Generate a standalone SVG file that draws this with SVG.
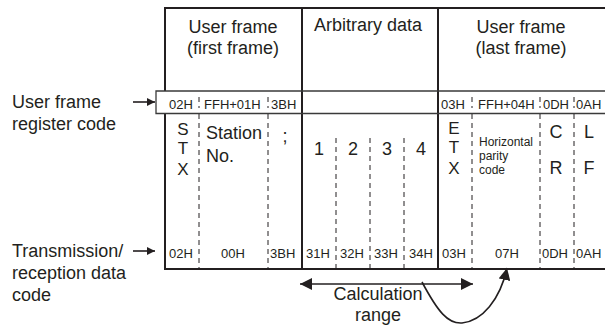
<svg xmlns="http://www.w3.org/2000/svg" width="605" height="326" viewBox="0 0 605 326">
<defs>
<style>
.t{font-family:"Liberation Sans",Arial,sans-serif;fill:#231f20}
.L{font-size:18px}
.V{font-size:17px}
.S{font-size:13px}
.H{font-size:12px}
.m{text-anchor:middle}
.thick{stroke:#231f20;stroke-width:2;fill:none}
.thin{stroke:#3a3a3a;stroke-width:1.3;fill:none}
.dash{stroke:#231f20;stroke-width:1;stroke-dasharray:5,4;fill:none}
.conn{stroke:#231f20;stroke-width:1.6;fill:none}
</style>
<marker id="ah" viewBox="0 0 10 10" refX="10" refY="5" markerWidth="8" markerHeight="8" markerUnits="userSpaceOnUse" orient="auto-start-reverse">
<path d="M0,0 L10,5 L0,10 z" fill="#231f20"/>
</marker>
<marker id="ah2" viewBox="0 0 10 10" refX="10" refY="5" markerWidth="12" markerHeight="12" markerUnits="userSpaceOnUse" orient="auto-start-reverse">
<path d="M0,0 L10,5 L0,10 z" fill="#231f20"/>
</marker>
</defs>

<g id="frame">
<line class="thick" x1="165" y1="8" x2="605" y2="8"/>
<line class="thick" x1="165" y1="269" x2="605" y2="269"/>
<line class="thick" x1="165" y1="7" x2="165" y2="91"/>
<line class="thick" x1="165" y1="114" x2="165" y2="270"/>
<line class="thick" x1="302" y1="7" x2="302" y2="270"/>
<line class="thick" x1="438" y1="7" x2="438" y2="270"/>
<path class="thin" d="M605 91 H156 V113.5 H605"/>
<line class="dash" x1="199" y1="114" x2="199" y2="269"/>
<line class="dash" x1="268" y1="114" x2="268" y2="269"/>
<line class="dash" x1="336" y1="138" x2="336" y2="269"/>
<line class="dash" x1="370" y1="138" x2="370" y2="269"/>
<line class="dash" x1="404" y1="138" x2="404" y2="269"/>
<line class="dash" x1="472" y1="114" x2="472" y2="269"/>
<line class="dash" x1="540" y1="114" x2="540" y2="269"/>
<line class="dash" x1="574" y1="114" x2="574" y2="269"/>
<line class="dash" x1="199" y1="97" x2="199" y2="108"/>
<line class="dash" x1="268" y1="97" x2="268" y2="108"/>
<line class="dash" x1="472" y1="97" x2="472" y2="108"/>
<line class="dash" x1="540" y1="97" x2="540" y2="108"/>
<line class="dash" x1="574" y1="97" x2="574" y2="108"/>
</g>

<g id="first-frame">
<text class="t L m" x="233" y="33">User frame</text>
<text class="t L m" x="233" y="54">(first frame)</text>
<text class="t S" x="169" y="109">02H</text>
<text class="t S" x="204" y="109">FFH+01H</text>
<text class="t S" x="271" y="109">3BH</text>
<text class="t V m" x="183" y="135"><tspan x="183">S</tspan><tspan x="183" dy="19">T</tspan><tspan x="183" dy="21">X</tspan></text>
<text class="t L" x="206" y="139"><tspan x="206">Station</tspan><tspan x="206" dy="23">No.</tspan></text>
<text class="t L m" x="285" y="142">;</text>
<text class="t S" x="169" y="258">02H</text>
<text class="t S m" x="233" y="258">00H</text>
<text class="t S" x="270" y="258">3BH</text>
</g>

<g id="arbitrary-data">
<text class="t L m" x="368" y="31">Arbitrary data</text>
<text class="t L m" x="319" y="155">1</text>
<text class="t L m" x="353" y="155">2</text>
<text class="t L m" x="387" y="155">3</text>
<text class="t L m" x="421" y="155">4</text>
<text class="t S" x="306" y="258">31H</text>
<text class="t S" x="340" y="258">32H</text>
<text class="t S" x="374" y="258">33H</text>
<text class="t S" x="409" y="258">34H</text>
</g>

<g id="last-frame">
<text class="t L m" x="521" y="33">User frame</text>
<text class="t L m" x="521" y="54">(last frame)</text>
<text class="t S" x="441" y="109">03H</text>
<text class="t S" x="478" y="109">FFH+04H</text>
<text class="t S" x="543" y="109">0DH</text>
<text class="t S" x="576" y="109">0AH</text>
<text class="t V m" x="454" y="134"><tspan x="454">E</tspan><tspan x="454" dy="19">T</tspan><tspan x="454" dy="21">X</tspan></text>
<text class="t H" x="479" y="146"><tspan x="479">Horizontal</tspan><tspan x="479" dy="14">parity</tspan><tspan x="479" dy="14">code</tspan></text>
<text class="t L m" x="556" y="138">C</text>
<text class="t L m" x="556" y="174">R</text>
<text class="t L m" x="589" y="138">L</text>
<text class="t L m" x="589" y="174">F</text>
<text class="t S" x="442" y="258">03H</text>
<text class="t S m" x="507" y="258">07H</text>
<text class="t S" x="542" y="258">0DH</text>
<text class="t S" x="576" y="258">0AH</text>
</g>

<g id="label-register">
<text class="t L" x="12" y="108">User frame</text>
<text class="t L" x="12" y="130">register code</text>
</g>

<g id="label-transmission">
<text class="t L" x="12" y="257">Transmission/</text>
<text class="t L" x="12" y="279">reception data</text>
<text class="t L" x="12" y="301">code</text>
</g>

<g id="label-calc">
<text class="t L m" x="378" y="300">Calculation</text>
<text class="t L m" x="378" y="321">range</text>
</g>

<g id="connectors">
<line class="conn" x1="133" y1="102" x2="155" y2="102" marker-end="url(#ah)"/>
<line class="conn" x1="133" y1="251" x2="155" y2="251" marker-end="url(#ah)"/>
<line class="conn" x1="300" y1="284" x2="473" y2="284" marker-start="url(#ah2)" marker-end="url(#ah2)"/>
<path class="conn" stroke-width="1.2" d="M422 282 C438 312 448 324 462 323 C482 321 500 300 507 268" marker-end="url(#ah2)"/>
</g>
</svg>
